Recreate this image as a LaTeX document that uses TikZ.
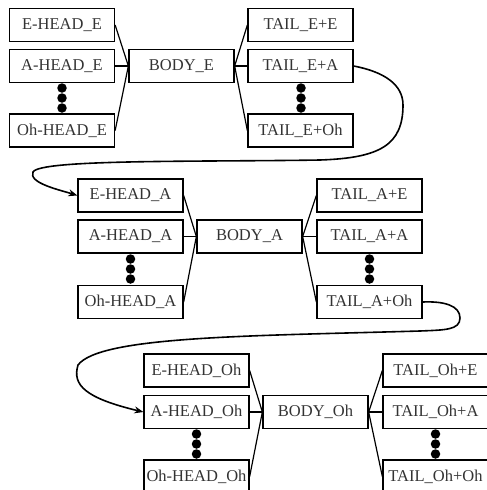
\documentclass[tikz,border=0pt]{standalone}
\usepackage{fontspec}
\setmainfont{Liberation Serif}
\usetikzlibrary{arrows.meta}
\begin{document}
\begin{tikzpicture}[x=1pt,y=-1pt,
  box/.style={draw=black, line width=1.3pt, minimum width=105pt, minimum height=33pt,
    inner sep=0pt, font=\fontsize{16.5}{18}\selectfont, text=black!80},
  dotn/.style={circle, fill=black, inner sep=0pt, minimum size=9.5pt},
  link/.style={line width=1.2pt},
  jump/.style={line width=1.6pt, -{Stealth[length=9pt,width=7pt]}}]
\useasboundingbox (0,0) rectangle (487,490);

% ---- group E ----
\node[box] (hEE) at (62,25)    {E-HEAD\_E};
\node[box] (hAE) at (62,66)    {A-HEAD\_E};
\node[box] (hOE) at (62,130.5) {Oh-HEAD\_E};
\node[box] (bE)  at (181.5,66) {BODY\_E};
\node[box] (tEE) at (300.5,25)    {TAIL\_E+E};
\node[box] (tEA) at (300.5,66)    {TAIL\_E+A};
\node[box] (tEO) at (300.5,130.5) {TAIL\_E+Oh};
\node[dotn] (dE1) at (62,88) {}; \node[dotn] (dE2) at (62,98) {}; \node[dotn] (dE3) at (62,108) {};
\node[dotn] (eE1) at (301,88) {}; \node[dotn] (eE2) at (301,98) {}; \node[dotn] (eE3) at (301,108) {};
\draw[link] (hEE.east) -- (bE.west);
\draw[link] (hAE.east) -- (bE.west);
\draw[link] (hOE.east) -- (bE.west);
\draw[link] (bE.east) -- (tEE.west);
\draw[link] (bE.east) -- (tEA.west);
\draw[link] (bE.east) -- (tEO.west);

% ---- group A ----
\node[box] (hEA) at (130.5,195.5) {E-HEAD\_A};
\node[box] (hAA) at (130.5,236.5) {A-HEAD\_A};
\node[box] (hOA) at (130.5,302)   {Oh-HEAD\_A};
\node[box] (bA)  at (249.5,236.5) {BODY\_A};
\node[box] (tAE) at (369.5,195.5) {TAIL\_A+E};
\node[box] (tAA) at (369.5,236.5) {TAIL\_A+A};
\node[box] (tAO) at (369.5,302)   {TAIL\_A+Oh};
\node[dotn] (dA1) at (130.5,259) {}; \node[dotn] (dA2) at (130.5,269) {}; \node[dotn] (dA3) at (130.5,279) {};
\node[dotn] (eA1) at (369.5,259) {}; \node[dotn] (eA2) at (369.5,269) {}; \node[dotn] (eA3) at (369.5,279) {};
\draw[link] (hEA.east) -- (bA.west);
\draw[link] (hAA.east) -- (bA.west);
\draw[link] (hOA.east) -- (bA.west);
\draw[link] (bA.east) -- (tAE.west);
\draw[link] (bA.east) -- (tAA.west);
\draw[link] (bA.east) -- (tAO.west);

% ---- group Oh ----
\node[box] (hEO) at (196.5,370.5) {E-HEAD\_Oh};
\node[box] (hAO) at (196.5,412)   {A-HEAD\_Oh};
\node[box] (hOO) at (196.5,476.5) {Oh-HEAD\_Oh};
\node[box] (bO)  at (315.5,412)   {BODY\_Oh};
\node[box] (tOE) at (435.5,370.5) {TAIL\_Oh+E};
\node[box] (tOA) at (435.5,412)   {TAIL\_Oh+A};
\node[box] (tOO) at (435.5,476.5) {TAIL\_Oh+Oh};
\node[dotn] (dO1) at (196.5,434) {}; \node[dotn] (dO2) at (196.5,444) {}; \node[dotn] (dO3) at (196.5,454) {};
\node[dotn] (eO1) at (435.5,434) {}; \node[dotn] (eO2) at (435.5,444) {}; \node[dotn] (eO3) at (435.5,454) {};
\draw[link] (hEO.east) -- (bO.west);
\draw[link] (hAO.east) -- (bO.west);
\draw[link] (hOO.east) -- (bO.west);
\draw[link] (bO.east) -- (tOE.west);
\draw[link] (bO.east) -- (tOA.west);
\draw[link] (bO.east) -- (tOO.west);

% ---- jumps ----
\coordinate (j1a) at (403,105);
\coordinate (j1b) at (320,160);
\coordinate (j1c) at (33,172);
\draw[jump] (tEA.east) .. controls (385,72) and (403,85) .. (j1a)
  .. controls (403,145) and (380,158) .. (j1b)
  .. controls (200,162) and (40,159) .. (j1c)
  .. controls (28,183) and (60,190) .. (hEA.west);

\coordinate (j2a) at (460,318);
\coordinate (j2b) at (420,331);
\coordinate (j2c) at (78,365);
\draw[jump] (tAO.east) .. controls (445,301) and (460,306) .. (j2a)
  .. controls (460,330) and (445,330) .. (j2b)
  .. controls (250,336) and (100,336) .. (j2c)
  .. controls (72,385) and (85,398) .. (hAO.west);
\end{tikzpicture}
\end{document}
